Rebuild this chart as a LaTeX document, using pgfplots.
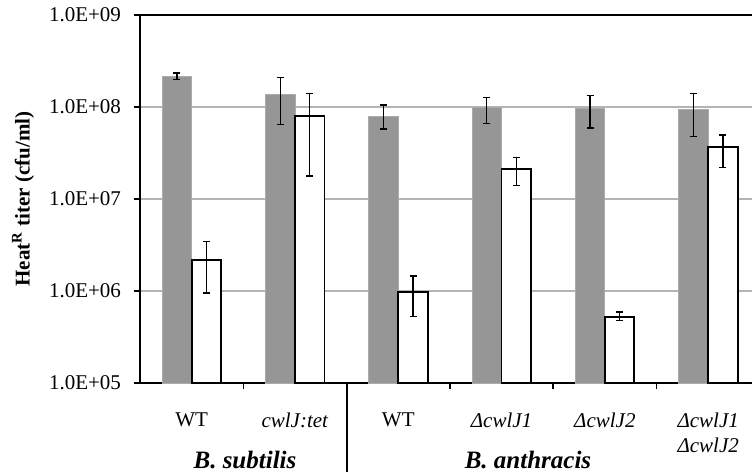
\documentclass[border=0pt]{standalone}
\usepackage{fontspec}
\setmainfont{Liberation Serif}
\usepackage{pgfplots}
\usepackage{pgfplotstable}
\pgfplotsset{compat=1.18}
\definecolor{barg}{HTML}{969696}
\definecolor{gridg}{HTML}{B4B4B4}
\pgfplotstableread{
x g gp gm w wp wm
0 2.17e8 1.8e7 1.7e7 2.17e6 1.27e6 1.22e6
1 1.36e8 7.4e7 7.2e7 7.98e7 6.1e7 6.2e7
2 7.98e7 2.5e7 2.2e7 9.8e5 4.8e5 4.5e5
3 9.8e7 2.9e7 3.15e7 2.10e7 7.1e6 6.9e6
4 9.6e7 3.7e7 3.7e7 5.26e5 6.5e4 5.1e4
5 9.44e7 4.7e7 4.7e7 3.65e7 1.3e7 1.44e7
}\datatable
\begin{document}
\begin{tikzpicture}
\useasboundingbox (0,0) rectangle (376pt,236pt);
\begin{axis}[
  at={(70pt,44.5pt)}, anchor=south west,
  scale only axis, width=306pt, height=184pt,
  ymode=log, ymin=1e5, ymax=1e9, log origin=infty,
  xmin=-0.5, xmax=5.424,
  axis x line*=bottom, axis y line*=left,
  axis line style={black, line width=0.8pt},
  tick align=outside, major tick length=3pt,
  tick style={black, line width=0.8pt},
  ytick={1e5,1e6,1e7,1e8,1e9},
  yticklabels={1.0E+05,1.0E+06,1.0E+07,1.0E+08,1.0E+09},
  yminorticks=false,
  ymajorgrids, grid style={gridg, line width=0.6pt},
  xtick={0.5,2.5,3.5,4.5}, xticklabels={},
  extra x ticks={0,1,2,3,4,5},
  extra x tick labels={WT,\textit{cwlJ:tet},WT,\textit{ΔcwlJ1},\textit{ΔcwlJ2},{\textit{ΔcwlJ1}\\\textit{ΔcwlJ2}}},
  extra x tick style={major tick length=0pt, tick style={draw=none}},
  tick label style={font=\fontsize{10.5}{12.5}\selectfont},
  x tick label style={align=center, anchor=north, yshift=-11.5pt},
  y tick label style={xshift=-3pt},
  ylabel={Heat\textsuperscript{R} titer (cfu/ml)},
  ylabel style={at={(axis description cs:-0.191,0.5)}, anchor=center, font=\fontsize{10.5}{12}\selectfont\bfseries},
  ybar=0pt, bar width=14.75pt,
  clip=false,
]
\addplot[ybar, fill=barg, draw=barg!80!white, line width=0.4pt,
  error bars/.cd, y dir=both, y explicit,
  error bar style={black, line width=0.65pt},
  error mark options={black, rotate=90, mark size=1.75pt, line width=0.65pt}]
  table[x=x, y=g, y error plus=gp, y error minus=gm]{\datatable};
\addplot[ybar, fill=white, draw=black, line width=0.9pt,
  error bars/.cd, y dir=both, y explicit,
  error bar style={black, line width=0.65pt},
  error mark options={black, rotate=90, mark size=1.75pt, line width=0.65pt}]
  table[x=x, y=w, y error plus=wp, y error minus=wm]{\datatable};
\draw[black, line width=0.8pt] (rel axis cs:0,1) -- (rel axis cs:1,1);
\coordinate (sep) at (axis cs:1.5,1e5);
\end{axis}
\draw[black, line width=1pt] (sep) -- (sep |- 0,0);
\node[font=\fontsize{12.5}{14}\selectfont\bfseries\itshape] at (122.5pt,6pt) {B. subtilis};
\node[font=\fontsize{12.5}{14}\selectfont\bfseries\itshape] at (264pt,6pt) {B. anthracis};
\end{tikzpicture}
\end{document}
